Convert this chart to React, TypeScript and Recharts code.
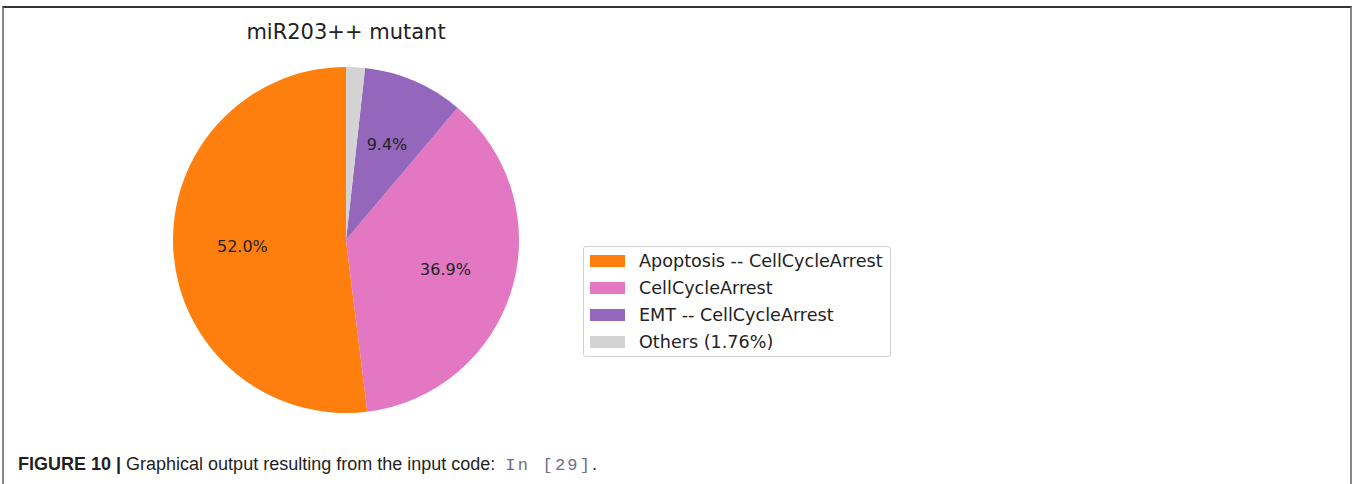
import React from "react"
import { PieChart, Pie, Cell, Legend } from "recharts"

// slice data
const categories = ["Apoptosis -- CellCycleArrest", "CellCycleArrest", "EMT -- CellCycleArrest", "Others (1.76%)"]
const shares = [52.0, 36.9, 9.4, 1.76]
const colors = ["#ff7f0e", "#e377c2", "#9467bd", "#d3d3d3"]

const data = categories.map((name, i) => ({ name, value: shares[i] }))

const RAD = Math.PI / 180
const sansFont = "'DejaVu Sans', sans-serif"

const renderLabel = (props: any) => {
  const { cx, cy, midAngle, outerRadius, value } = props
  if (value < 2) return null
  const r = outerRadius * 0.6
  const x = cx + r * Math.cos(-midAngle * RAD)
  const y = cy + r * Math.sin(-midAngle * RAD)
  return (
    <text
      x={x}
      y={y}
      fill="#222"
      fontSize={16}
      fontFamily={sansFont}
      textAnchor="middle"
      dominantBaseline="central"
    >
      {`${value.toFixed(1)}%`}
    </text>
  )
}

const renderLegend = () => (
  <div
    style={{
      border: "1px solid #d0d0d0",
      borderRadius: 3,
      padding: "0 7px 1px 6px",
      background: "#fff",
      fontFamily: sansFont,
      fontSize: 17.6,
      color: "#222",
    }}
  >
    {categories.map((name, i) => (
      <div key={name} style={{ display: "flex", alignItems: "center", height: 27 }}>
        <span style={{ width: 35, height: 12, background: colors[i], marginRight: 14, flexShrink: 0 }} />
        <span style={{ whiteSpace: "nowrap" }}>{name}</span>
      </div>
    ))}
  </div>
)

export default function App() {
  return (
    <div
      style={{
        position: "absolute",
        left: 0,
        top: 0,
        width: 1352,
        height: 484,
        background: "#fff",
        overflow: "hidden",
      }}
    >
      {/* figure frame */}
      <div
        style={{
          position: "absolute",
          left: 2,
          top: 6,
          width: 1346,
          height: 500,
          borderTop: "2px solid #333",
          borderLeft: "2px solid #888",
          borderRight: "2px solid #888",
        }}
      />

      <div
        style={{
          position: "absolute",
          left: 146,
          width: 400,
          top: 20,
          textAlign: "center",
          fontFamily: sansFont,
          fontSize: 21,
          color: "#222",
        }}
      >
        miR203++ mutant
      </div>

      <div style={{ position: "absolute", left: 0, top: 0 }}>
        <PieChart width={1000} height={440} margin={{ top: 0, right: 0, bottom: 0, left: 0 }}>
          <Pie
            data={data}
            dataKey="value"
            nameKey="name"
            cx={346}
            cy={240}
            outerRadius={173}
            startAngle={90}
            endAngle={450}
            stroke="none"
            label={renderLabel}
            labelLine={false}
            isAnimationActive={false}
          >
            {data.map((d, i) => (
              <Cell key={d.name} fill={colors[i]} />
            ))}
          </Pie>
          <Legend
            content={renderLegend}
            wrapperStyle={{ position: "absolute", left: 583, top: 246, width: "auto" }}
          />
        </PieChart>
      </div>

      <div
        style={{
          position: "absolute",
          left: 18,
          top: 454,
          fontFamily: "'Liberation Sans', Arial, sans-serif",
          fontSize: 18,
          lineHeight: "20px",
          color: "#231f20",
          whiteSpace: "nowrap",
        }}
      >
        <b>FIGURE 10 |</b> Graphical output resulting from the input code:
        <span
          style={{
            fontFamily: "'Liberation Mono', monospace",
            color: "#6f6f80",
            fontSize: 17,
            letterSpacing: 2.2,
            marginLeft: 10,
          }}
        >
          In [29]
        </span>
        .
      </div>
    </div>
  )
}
